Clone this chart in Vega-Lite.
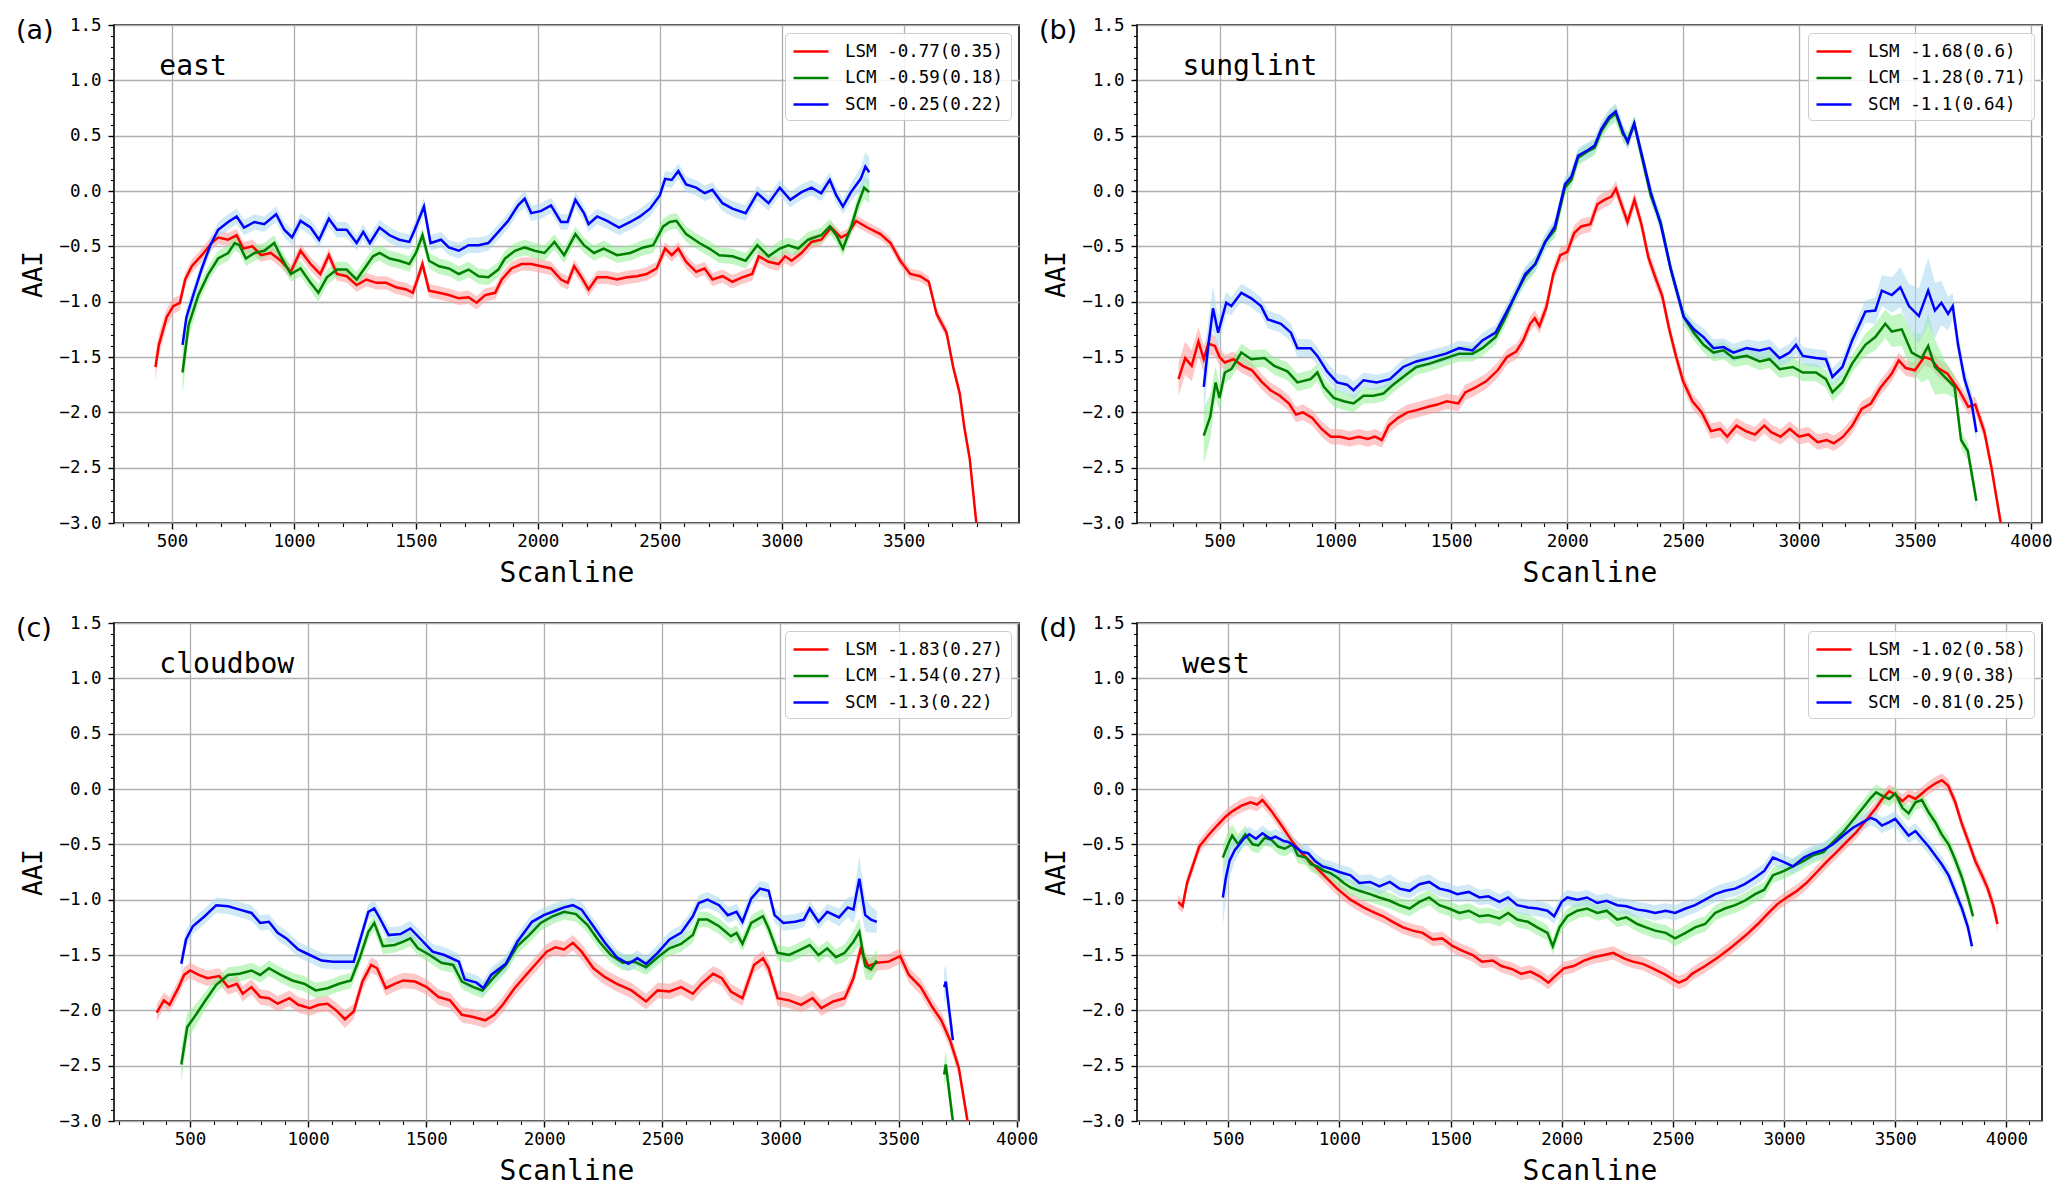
{
"$schema": "https://vega.github.io/schema/vega-lite/v6.json",
"padding": {"left": 15, "top": 15, "right": 10, "bottom": 6},
"columns": 2,
"spacing": {"row": 100, "column": 118},
"bounds": "flush",
"resolve": {"scale": {"color": "independent", "x": "independent", "y": "independent"}, "legend": {"color": "independent"}, "axis": {"x": "independent", "y": "independent"}},
"config": {
 "view": {"stroke": "black", "strokeWidth": 1.6},
 "font": "DejaVu Sans Mono",
 "axis": {"labelFont": "DejaVu Sans Mono", "labelFontSize": 17.5, "labelColor": "black", "titleFont": "DejaVu Sans Mono", "titleFontWeight": "normal", "titleColor": "black", "tickColor": "black", "tickWidth": 1.4, "domain": false, "gridColor": "#b0b0b0", "gridWidth": 1.3, "labelFlush": false, "labelOverlap": false},
 "legend": {"title": null, "orient": "top-right", "offset": 8, "padding": 7, "fillColor": "rgba(255,255,255,0.85)", "strokeColor": "#cccccc", "cornerRadius": 4, "symbolType": "M-1,0H2.5", "symbolSize": 400, "symbolStrokeWidth": 2.6, "labelFont": "DejaVu Sans Mono", "labelFontSize": 17.5, "labelColor": "black", "labelOffset": 30, "rowPadding": 6.5, "labelLimit": 400}
},
"concat": [
{
 "width": 905, "height": 498,
 "data": {"values": [
{"s":"LSM","x":432,"y":-1.59,"e":0.12},{"s":"LSM","x":446,"y":-1.39,"e":0.1},{"s":"LSM","x":478,"y":-1.14,"e":0.08},{"s":"LSM","x":505,"y":-1.04,"e":0.07},{"s":"LSM","x":532,"y":-1.01,"e":0.07},{"s":"LSM","x":554,"y":-0.8,"e":0.06},{"s":"LSM","x":581,"y":-0.68,"e":0.06},{"s":"LSM","x":622,"y":-0.58,"e":0.06},{"s":"LSM","x":662,"y":-0.47,"e":0.06},{"s":"LSM","x":689,"y":-0.42,"e":0.06},{"s":"LSM","x":730,"y":-0.44,"e":0.06},{"s":"LSM","x":765,"y":-0.4,"e":0.06},{"s":"LSM","x":792,"y":-0.52,"e":0.06},{"s":"LSM","x":830,"y":-0.5,"e":0.06},{"s":"LSM","x":865,"y":-0.58,"e":0.06},{"s":"LSM","x":905,"y":-0.56,"e":0.06},{"s":"LSM","x":946,"y":-0.63,"e":0.06},{"s":"LSM","x":987,"y":-0.73,"e":0.06},{"s":"LSM","x":1027,"y":-0.54,"e":0.06},{"s":"LSM","x":1068,"y":-0.66,"e":0.06},{"s":"LSM","x":1108,"y":-0.75,"e":0.06},{"s":"LSM","x":1143,"y":-0.58,"e":0.06},{"s":"LSM","x":1176,"y":-0.75,"e":0.06},{"s":"LSM","x":1216,"y":-0.77,"e":0.06},{"s":"LSM","x":1257,"y":-0.85,"e":0.06},{"s":"LSM","x":1297,"y":-0.8,"e":0.06},{"s":"LSM","x":1338,"y":-0.83,"e":0.06},{"s":"LSM","x":1378,"y":-0.83,"e":0.06},{"s":"LSM","x":1419,"y":-0.87,"e":0.06},{"s":"LSM","x":1460,"y":-0.89,"e":0.06},{"s":"LSM","x":1487,"y":-0.92,"e":0.06},{"s":"LSM","x":1506,"y":-0.8,"e":0.06},{"s":"LSM","x":1527,"y":-0.66,"e":0.06},{"s":"LSM","x":1554,"y":-0.9,"e":0.06},{"s":"LSM","x":1595,"y":-0.92,"e":0.06},{"s":"LSM","x":1635,"y":-0.94,"e":0.06},{"s":"LSM","x":1676,"y":-0.97,"e":0.06},{"s":"LSM","x":1716,"y":-0.96,"e":0.06},{"s":"LSM","x":1749,"y":-1.01,"e":0.06},{"s":"LSM","x":1784,"y":-0.94,"e":0.06},{"s":"LSM","x":1825,"y":-0.92,"e":0.06},{"s":"LSM","x":1852,"y":-0.8,"e":0.06},{"s":"LSM","x":1892,"y":-0.7,"e":0.06},{"s":"LSM","x":1933,"y":-0.66,"e":0.06},{"s":"LSM","x":1973,"y":-0.66,"e":0.06},{"s":"LSM","x":2014,"y":-0.68,"e":0.06},{"s":"LSM","x":2054,"y":-0.7,"e":0.06},{"s":"LSM","x":2095,"y":-0.8,"e":0.06},{"s":"LSM","x":2122,"y":-0.83,"e":0.06},{"s":"LSM","x":2149,"y":-0.68,"e":0.06},{"s":"LSM","x":2176,"y":-0.77,"e":0.06},{"s":"LSM","x":2208,"y":-0.89,"e":0.06},{"s":"LSM","x":2243,"y":-0.78,"e":0.06},{"s":"LSM","x":2284,"y":-0.78,"e":0.06},{"s":"LSM","x":2325,"y":-0.8,"e":0.06},{"s":"LSM","x":2365,"y":-0.78,"e":0.06},{"s":"LSM","x":2406,"y":-0.77,"e":0.06},{"s":"LSM","x":2446,"y":-0.75,"e":0.06},{"s":"LSM","x":2487,"y":-0.7,"e":0.06},{"s":"LSM","x":2522,"y":-0.52,"e":0.06},{"s":"LSM","x":2549,"y":-0.58,"e":0.06},{"s":"LSM","x":2576,"y":-0.52,"e":0.06},{"s":"LSM","x":2608,"y":-0.64,"e":0.06},{"s":"LSM","x":2649,"y":-0.73,"e":0.06},{"s":"LSM","x":2684,"y":-0.7,"e":0.06},{"s":"LSM","x":2716,"y":-0.8,"e":0.06},{"s":"LSM","x":2757,"y":-0.77,"e":0.06},{"s":"LSM","x":2798,"y":-0.82,"e":0.06},{"s":"LSM","x":2838,"y":-0.78,"e":0.06},{"s":"LSM","x":2879,"y":-0.75,"e":0.06},{"s":"LSM","x":2906,"y":-0.59,"e":0.06},{"s":"LSM","x":2946,"y":-0.64,"e":0.06},{"s":"LSM","x":2987,"y":-0.66,"e":0.06},{"s":"LSM","x":3014,"y":-0.59,"e":0.06},{"s":"LSM","x":3041,"y":-0.63,"e":0.06},{"s":"LSM","x":3081,"y":-0.56,"e":0.06},{"s":"LSM","x":3122,"y":-0.46,"e":0.06},{"s":"LSM","x":3162,"y":-0.44,"e":0.05},{"s":"LSM","x":3203,"y":-0.33,"e":0.05},{"s":"LSM","x":3243,"y":-0.42,"e":0.05},{"s":"LSM","x":3270,"y":-0.39,"e":0.05},{"s":"LSM","x":3305,"y":-0.27,"e":0.05},{"s":"LSM","x":3351,"y":-0.33,"e":0.05},{"s":"LSM","x":3405,"y":-0.39,"e":0.05},{"s":"LSM","x":3446,"y":-0.47,"e":0.05},{"s":"LSM","x":3486,"y":-0.63,"e":0.05},{"s":"LSM","x":3527,"y":-0.75,"e":0.05},{"s":"LSM","x":3568,"y":-0.77,"e":0.05},{"s":"LSM","x":3603,"y":-0.82,"e":0.05},{"s":"LSM","x":3635,"y":-1.11,"e":0.05},{"s":"LSM","x":3676,"y":-1.28,"e":0.05},{"s":"LSM","x":3703,"y":-1.59,"e":0.05},{"s":"LSM","x":3730,"y":-1.83,"e":0.05},{"s":"LSM","x":3749,"y":-2.14,"e":0.05},{"s":"LSM","x":3771,"y":-2.42,"e":0.05},{"s":"LSM","x":3798,"y":-3.0,"e":0.05},
{"s":"LCM","x":543,"y":-1.64,"e":0.2},{"s":"LCM","x":568,"y":-1.21,"e":0.12},{"s":"LCM","x":608,"y":-0.94,"e":0.08},{"s":"LCM","x":649,"y":-0.75,"e":0.07},{"s":"LCM","x":689,"y":-0.61,"e":0.07},{"s":"LCM","x":730,"y":-0.56,"e":0.07},{"s":"LCM","x":757,"y":-0.47,"e":0.07},{"s":"LCM","x":776,"y":-0.49,"e":0.07},{"s":"LCM","x":803,"y":-0.61,"e":0.07},{"s":"LCM","x":838,"y":-0.56,"e":0.07},{"s":"LCM","x":878,"y":-0.54,"e":0.07},{"s":"LCM","x":919,"y":-0.47,"e":0.07},{"s":"LCM","x":946,"y":-0.59,"e":0.07},{"s":"LCM","x":987,"y":-0.75,"e":0.07},{"s":"LCM","x":1027,"y":-0.7,"e":0.07},{"s":"LCM","x":1068,"y":-0.83,"e":0.07},{"s":"LCM","x":1100,"y":-0.92,"e":0.08},{"s":"LCM","x":1135,"y":-0.78,"e":0.07},{"s":"LCM","x":1176,"y":-0.71,"e":0.07},{"s":"LCM","x":1216,"y":-0.71,"e":0.07},{"s":"LCM","x":1257,"y":-0.8,"e":0.07},{"s":"LCM","x":1289,"y":-0.7,"e":0.07},{"s":"LCM","x":1324,"y":-0.59,"e":0.07},{"s":"LCM","x":1351,"y":-0.56,"e":0.07},{"s":"LCM","x":1392,"y":-0.61,"e":0.07},{"s":"LCM","x":1432,"y":-0.63,"e":0.07},{"s":"LCM","x":1473,"y":-0.66,"e":0.07},{"s":"LCM","x":1500,"y":-0.56,"e":0.07},{"s":"LCM","x":1527,"y":-0.4,"e":0.07},{"s":"LCM","x":1554,"y":-0.63,"e":0.07},{"s":"LCM","x":1595,"y":-0.68,"e":0.07},{"s":"LCM","x":1635,"y":-0.7,"e":0.07},{"s":"LCM","x":1676,"y":-0.75,"e":0.07},{"s":"LCM","x":1716,"y":-0.71,"e":0.07},{"s":"LCM","x":1757,"y":-0.77,"e":0.07},{"s":"LCM","x":1797,"y":-0.78,"e":0.07},{"s":"LCM","x":1838,"y":-0.71,"e":0.07},{"s":"LCM","x":1865,"y":-0.61,"e":0.07},{"s":"LCM","x":1906,"y":-0.54,"e":0.07},{"s":"LCM","x":1946,"y":-0.51,"e":0.07},{"s":"LCM","x":1987,"y":-0.54,"e":0.07},{"s":"LCM","x":2027,"y":-0.56,"e":0.07},{"s":"LCM","x":2068,"y":-0.46,"e":0.07},{"s":"LCM","x":2108,"y":-0.58,"e":0.07},{"s":"LCM","x":2154,"y":-0.39,"e":0.07},{"s":"LCM","x":2189,"y":-0.49,"e":0.07},{"s":"LCM","x":2230,"y":-0.56,"e":0.07},{"s":"LCM","x":2270,"y":-0.52,"e":0.07},{"s":"LCM","x":2325,"y":-0.58,"e":0.07},{"s":"LCM","x":2379,"y":-0.56,"e":0.07},{"s":"LCM","x":2433,"y":-0.51,"e":0.07},{"s":"LCM","x":2473,"y":-0.49,"e":0.07},{"s":"LCM","x":2514,"y":-0.32,"e":0.07},{"s":"LCM","x":2541,"y":-0.28,"e":0.07},{"s":"LCM","x":2568,"y":-0.27,"e":0.07},{"s":"LCM","x":2608,"y":-0.39,"e":0.07},{"s":"LCM","x":2662,"y":-0.47,"e":0.07},{"s":"LCM","x":2703,"y":-0.52,"e":0.07},{"s":"LCM","x":2744,"y":-0.58,"e":0.07},{"s":"LCM","x":2798,"y":-0.59,"e":0.07},{"s":"LCM","x":2852,"y":-0.63,"e":0.07},{"s":"LCM","x":2900,"y":-0.49,"e":0.07},{"s":"LCM","x":2946,"y":-0.59,"e":0.07},{"s":"LCM","x":2992,"y":-0.52,"e":0.07},{"s":"LCM","x":3027,"y":-0.49,"e":0.07},{"s":"LCM","x":3068,"y":-0.52,"e":0.07},{"s":"LCM","x":3108,"y":-0.44,"e":0.07},{"s":"LCM","x":3162,"y":-0.4,"e":0.07},{"s":"LCM","x":3197,"y":-0.32,"e":0.07},{"s":"LCM","x":3224,"y":-0.4,"e":0.07},{"s":"LCM","x":3251,"y":-0.52,"e":0.07},{"s":"LCM","x":3284,"y":-0.33,"e":0.07},{"s":"LCM","x":3311,"y":-0.13,"e":0.08},{"s":"LCM","x":3338,"y":0.03,"e":0.1},{"s":"LCM","x":3359,"y":-0.01,"e":0.1},
{"s":"SCM","x":543,"y":-1.39,"e":0.1},{"s":"SCM","x":559,"y":-1.14,"e":0.08},{"s":"SCM","x":587,"y":-0.94,"e":0.07},{"s":"SCM","x":622,"y":-0.7,"e":0.07},{"s":"SCM","x":657,"y":-0.49,"e":0.07},{"s":"SCM","x":689,"y":-0.35,"e":0.07},{"s":"SCM","x":730,"y":-0.28,"e":0.07},{"s":"SCM","x":765,"y":-0.23,"e":0.07},{"s":"SCM","x":795,"y":-0.33,"e":0.07},{"s":"SCM","x":838,"y":-0.28,"e":0.07},{"s":"SCM","x":878,"y":-0.3,"e":0.07},{"s":"SCM","x":927,"y":-0.21,"e":0.07},{"s":"SCM","x":960,"y":-0.35,"e":0.07},{"s":"SCM","x":992,"y":-0.42,"e":0.07},{"s":"SCM","x":1027,"y":-0.27,"e":0.07},{"s":"SCM","x":1068,"y":-0.33,"e":0.07},{"s":"SCM","x":1103,"y":-0.44,"e":0.07},{"s":"SCM","x":1143,"y":-0.25,"e":0.07},{"s":"SCM","x":1176,"y":-0.35,"e":0.07},{"s":"SCM","x":1216,"y":-0.35,"e":0.07},{"s":"SCM","x":1257,"y":-0.47,"e":0.07},{"s":"SCM","x":1284,"y":-0.37,"e":0.07},{"s":"SCM","x":1311,"y":-0.47,"e":0.07},{"s":"SCM","x":1351,"y":-0.33,"e":0.07},{"s":"SCM","x":1392,"y":-0.4,"e":0.07},{"s":"SCM","x":1432,"y":-0.44,"e":0.07},{"s":"SCM","x":1473,"y":-0.46,"e":0.07},{"s":"SCM","x":1495,"y":-0.35,"e":0.07},{"s":"SCM","x":1533,"y":-0.14,"e":0.08},{"s":"SCM","x":1560,"y":-0.47,"e":0.07},{"s":"SCM","x":1603,"y":-0.44,"e":0.07},{"s":"SCM","x":1635,"y":-0.51,"e":0.07},{"s":"SCM","x":1676,"y":-0.54,"e":0.07},{"s":"SCM","x":1716,"y":-0.49,"e":0.07},{"s":"SCM","x":1757,"y":-0.49,"e":0.07},{"s":"SCM","x":1797,"y":-0.47,"e":0.07},{"s":"SCM","x":1838,"y":-0.37,"e":0.07},{"s":"SCM","x":1878,"y":-0.27,"e":0.07},{"s":"SCM","x":1919,"y":-0.13,"e":0.07},{"s":"SCM","x":1946,"y":-0.07,"e":0.08},{"s":"SCM","x":1973,"y":-0.2,"e":0.07},{"s":"SCM","x":2014,"y":-0.18,"e":0.07},{"s":"SCM","x":2054,"y":-0.13,"e":0.07},{"s":"SCM","x":2095,"y":-0.28,"e":0.07},{"s":"SCM","x":2122,"y":-0.28,"e":0.07},{"s":"SCM","x":2154,"y":-0.08,"e":0.07},{"s":"SCM","x":2189,"y":-0.2,"e":0.07},{"s":"SCM","x":2208,"y":-0.3,"e":0.07},{"s":"SCM","x":2243,"y":-0.23,"e":0.07},{"s":"SCM","x":2284,"y":-0.27,"e":0.07},{"s":"SCM","x":2333,"y":-0.33,"e":0.07},{"s":"SCM","x":2379,"y":-0.28,"e":0.07},{"s":"SCM","x":2419,"y":-0.23,"e":0.07},{"s":"SCM","x":2460,"y":-0.16,"e":0.07},{"s":"SCM","x":2500,"y":-0.04,"e":0.07},{"s":"SCM","x":2522,"y":0.11,"e":0.07},{"s":"SCM","x":2549,"y":0.1,"e":0.07},{"s":"SCM","x":2576,"y":0.18,"e":0.07},{"s":"SCM","x":2608,"y":0.06,"e":0.07},{"s":"SCM","x":2649,"y":0.03,"e":0.07},{"s":"SCM","x":2684,"y":-0.02,"e":0.07},{"s":"SCM","x":2716,"y":0.01,"e":0.07},{"s":"SCM","x":2757,"y":-0.11,"e":0.07},{"s":"SCM","x":2798,"y":-0.16,"e":0.07},{"s":"SCM","x":2852,"y":-0.2,"e":0.07},{"s":"SCM","x":2900,"y":-0.02,"e":0.07},{"s":"SCM","x":2946,"y":-0.11,"e":0.07},{"s":"SCM","x":2992,"y":0.03,"e":0.07},{"s":"SCM","x":3035,"y":-0.08,"e":0.07},{"s":"SCM","x":3081,"y":-0.01,"e":0.07},{"s":"SCM","x":3122,"y":0.03,"e":0.07},{"s":"SCM","x":3162,"y":-0.02,"e":0.07},{"s":"SCM","x":3197,"y":0.1,"e":0.07},{"s":"SCM","x":3224,"y":-0.04,"e":0.07},{"s":"SCM","x":3251,"y":-0.14,"e":0.07},{"s":"SCM","x":3284,"y":-0.01,"e":0.08},{"s":"SCM","x":3324,"y":0.11,"e":0.1},{"s":"SCM","x":3343,"y":0.22,"e":0.13},{"s":"SCM","x":3359,"y":0.17,"e":0.14}
 ]},
 "layer": [
  {"mark": {"type": "errorband", "clip": true, "opacity": 0.55},
   "encoding": {
    "x": {"field": "x", "type": "quantitative", "scale": {"domain": [262, 3973], "nice": false, "zero": false}, "axis": {"orient": "bottom", "values": [300,400,600,700,800,900,1100,1200,1300,1400,1600,1700,1800,1900,2100,2200,2300,2400,2600,2700,2800,2900,3100,3200,3300,3400,3600,3700,3800,3900], "labels": false, "grid": false, "tickSize": 3.5, "tickWidth": 1.1, "title": null}},
    "y": {"field": "y", "type": "quantitative", "scale": {"domain": [-3, 1.5], "nice": false, "zero": false}, "axis": {"orient": "left", "values": [-2.9,-2.8,-2.7,-2.6,-2.4,-2.3,-2.2,-2.1,-1.9,-1.8,-1.7,-1.6,-1.4,-1.3,-1.2,-1.1,-0.9,-0.8,-0.7,-0.6,-0.4,-0.3,-0.2,-0.1,0.1,0.2,0.3,0.4,0.6,0.7,0.8,0.9,1.1,1.2,1.3,1.4], "labels": false, "grid": false, "tickSize": 3.5, "tickWidth": 1.1, "title": null}},
    "yError": {"field": "e"},
    "color": {"field": "s", "type": "nominal", "scale": {"domain": ["LSM", "LCM", "SCM"], "range": ["#ff9a9a", "#90ee90", "#a8d8ee"]}, "legend": null}
   }},
  {"mark": {"type": "line", "clip": true, "strokeWidth": 2.5},
   "encoding": {
    "x": {"field": "x", "type": "quantitative", "scale": {"domain": [262, 3973], "nice": false, "zero": false}, "axis": {"orient": "bottom", "values": [500,1000,1500,2000,2500,3000,3500], "format": "d", "grid": true, "tickSize": 6, "labelPadding": 3, "title": "Scanline", "titleFontSize": 28, "titlePadding": 10}},
    "y": {"field": "y", "type": "quantitative", "scale": {"domain": [-3, 1.5], "nice": false, "zero": false}, "axis": {"orient": "left", "values": [-3,-2.5,-2,-1.5,-1,-0.5,0,0.5,1,1.5], "format": ".1f", "grid": true, "tickSize": 6, "labelPadding": 7, "title": "AAI", "titleFontSize": 26, "titlePadding": 12}},
    "color": {"field": "s", "type": "nominal", "scale": {"domain": ["LSM", "LCM", "SCM"], "range": ["#ff0000", "#008000", "#0000ff"]}, "legend": {"labelExpr": "datum.label == 'LSM' ? 'LSM -0.77(0.35)' : datum.label == 'LCM' ? 'LCM -0.59(0.18)' : 'SCM -0.25(0.22)'"}}
   }},
  {"data": {"values": [{"x": 448, "y": 1.05, "t": "east"}]},
   "mark": {"type": "text", "align": "left", "baseline": "alphabetic", "font": "DejaVu Sans Mono", "fontSize": 28, "color": "black"},
   "encoding": {"x": {"field": "x", "type": "quantitative", "axis": null}, "y": {"field": "y", "type": "quantitative", "axis": null}, "text": {"field": "t"}}},
  {"data": {"values": [{"x": -140, "y": 1.373, "t": "(a)"}]},
   "mark": {"type": "text", "align": "left", "baseline": "alphabetic", "font": "DejaVu Sans", "fontSize": 27, "color": "black", "clip": false},
   "encoding": {"x": {"field": "x", "type": "quantitative", "axis": null}, "y": {"field": "y", "type": "quantitative", "axis": null}, "text": {"field": "t"}}}
 ],
 "resolve": {"scale": {"color": "independent"}, "axis": {"x": "independent", "y": "independent"}}
},
{
 "width": 905, "height": 498,
 "data": {"values": [
{"s":"LSM","x":323,"y":-1.7,"e":0.15},{"s":"LSM","x":352,"y":-1.51,"e":0.15},{"s":"LSM","x":380,"y":-1.58,"e":0.14},{"s":"LSM","x":409,"y":-1.36,"e":0.13},{"s":"LSM","x":432,"y":-1.52,"e":0.12},{"s":"LSM","x":452,"y":-1.38,"e":0.1},{"s":"LSM","x":480,"y":-1.4,"e":0.09},{"s":"LSM","x":500,"y":-1.5,"e":0.08},{"s":"LSM","x":523,"y":-1.55,"e":0.07},{"s":"LSM","x":560,"y":-1.52,"e":0.07},{"s":"LSM","x":600,"y":-1.58,"e":0.07},{"s":"LSM","x":640,"y":-1.62,"e":0.07},{"s":"LSM","x":680,"y":-1.72,"e":0.07},{"s":"LSM","x":720,"y":-1.8,"e":0.07},{"s":"LSM","x":760,"y":-1.85,"e":0.07},{"s":"LSM","x":800,"y":-1.92,"e":0.07},{"s":"LSM","x":830,"y":-2.02,"e":0.07},{"s":"LSM","x":860,"y":-2.0,"e":0.07},{"s":"LSM","x":900,"y":-2.05,"e":0.07},{"s":"LSM","x":940,"y":-2.15,"e":0.07},{"s":"LSM","x":980,"y":-2.22,"e":0.07},{"s":"LSM","x":1020,"y":-2.22,"e":0.07},{"s":"LSM","x":1060,"y":-2.24,"e":0.07},{"s":"LSM","x":1100,"y":-2.22,"e":0.07},{"s":"LSM","x":1140,"y":-2.24,"e":0.07},{"s":"LSM","x":1170,"y":-2.22,"e":0.07},{"s":"LSM","x":1200,"y":-2.25,"e":0.07},{"s":"LSM","x":1230,"y":-2.12,"e":0.07},{"s":"LSM","x":1270,"y":-2.05,"e":0.07},{"s":"LSM","x":1310,"y":-2.0,"e":0.07},{"s":"LSM","x":1350,"y":-1.98,"e":0.07},{"s":"LSM","x":1400,"y":-1.95,"e":0.07},{"s":"LSM","x":1440,"y":-1.93,"e":0.07},{"s":"LSM","x":1480,"y":-1.9,"e":0.07},{"s":"LSM","x":1530,"y":-1.92,"e":0.07},{"s":"LSM","x":1560,"y":-1.82,"e":0.07},{"s":"LSM","x":1600,"y":-1.78,"e":0.07},{"s":"LSM","x":1650,"y":-1.72,"e":0.07},{"s":"LSM","x":1700,"y":-1.62,"e":0.07},{"s":"LSM","x":1740,"y":-1.5,"e":0.07},{"s":"LSM","x":1780,"y":-1.45,"e":0.07},{"s":"LSM","x":1810,"y":-1.35,"e":0.07},{"s":"LSM","x":1840,"y":-1.2,"e":0.07},{"s":"LSM","x":1860,"y":-1.15,"e":0.07},{"s":"LSM","x":1880,"y":-1.22,"e":0.07},{"s":"LSM","x":1910,"y":-1.05,"e":0.07},{"s":"LSM","x":1940,"y":-0.75,"e":0.07},{"s":"LSM","x":1970,"y":-0.58,"e":0.07},{"s":"LSM","x":2000,"y":-0.55,"e":0.07},{"s":"LSM","x":2030,"y":-0.38,"e":0.07},{"s":"LSM","x":2060,"y":-0.32,"e":0.07},{"s":"LSM","x":2100,"y":-0.3,"e":0.07},{"s":"LSM","x":2130,"y":-0.12,"e":0.07},{"s":"LSM","x":2160,"y":-0.08,"e":0.07},{"s":"LSM","x":2190,"y":-0.05,"e":0.07},{"s":"LSM","x":2210,"y":0.02,"e":0.07},{"s":"LSM","x":2230,"y":-0.1,"e":0.07},{"s":"LSM","x":2260,"y":-0.28,"e":0.07},{"s":"LSM","x":2290,"y":-0.08,"e":0.07},{"s":"LSM","x":2320,"y":-0.3,"e":0.07},{"s":"LSM","x":2350,"y":-0.6,"e":0.07},{"s":"LSM","x":2380,"y":-0.78,"e":0.07},{"s":"LSM","x":2410,"y":-0.95,"e":0.07},{"s":"LSM","x":2440,"y":-1.25,"e":0.07},{"s":"LSM","x":2470,"y":-1.5,"e":0.07},{"s":"LSM","x":2500,"y":-1.72,"e":0.07},{"s":"LSM","x":2540,"y":-1.9,"e":0.07},{"s":"LSM","x":2580,"y":-2.0,"e":0.07},{"s":"LSM","x":2620,"y":-2.17,"e":0.07},{"s":"LSM","x":2660,"y":-2.15,"e":0.07},{"s":"LSM","x":2690,"y":-2.22,"e":0.07},{"s":"LSM","x":2730,"y":-2.12,"e":0.07},{"s":"LSM","x":2770,"y":-2.17,"e":0.07},{"s":"LSM","x":2810,"y":-2.2,"e":0.07},{"s":"LSM","x":2850,"y":-2.12,"e":0.07},{"s":"LSM","x":2880,"y":-2.18,"e":0.07},{"s":"LSM","x":2920,"y":-2.22,"e":0.07},{"s":"LSM","x":2960,"y":-2.15,"e":0.07},{"s":"LSM","x":3000,"y":-2.22,"e":0.07},{"s":"LSM","x":3040,"y":-2.2,"e":0.07},{"s":"LSM","x":3080,"y":-2.27,"e":0.07},{"s":"LSM","x":3120,"y":-2.25,"e":0.07},{"s":"LSM","x":3150,"y":-2.28,"e":0.07},{"s":"LSM","x":3190,"y":-2.22,"e":0.07},{"s":"LSM","x":3230,"y":-2.12,"e":0.07},{"s":"LSM","x":3270,"y":-1.97,"e":0.07},{"s":"LSM","x":3310,"y":-1.92,"e":0.07},{"s":"LSM","x":3350,"y":-1.78,"e":0.07},{"s":"LSM","x":3400,"y":-1.65,"e":0.07},{"s":"LSM","x":3430,"y":-1.53,"e":0.07},{"s":"LSM","x":3460,"y":-1.6,"e":0.07},{"s":"LSM","x":3500,"y":-1.62,"e":0.07},{"s":"LSM","x":3540,"y":-1.5,"e":0.08},{"s":"LSM","x":3570,"y":-1.52,"e":0.08},{"s":"LSM","x":3600,"y":-1.6,"e":0.08},{"s":"LSM","x":3640,"y":-1.65,"e":0.08},{"s":"LSM","x":3690,"y":-1.8,"e":0.07},{"s":"LSM","x":3730,"y":-1.95,"e":0.07},{"s":"LSM","x":3760,"y":-1.93,"e":0.07},{"s":"LSM","x":3800,"y":-2.18,"e":0.07},{"s":"LSM","x":3830,"y":-2.5,"e":0.07},{"s":"LSM","x":3870,"y":-3.0,"e":0.07},
{"s":"LCM","x":432,"y":-2.21,"e":0.25},{"s":"LCM","x":460,"y":-2.04,"e":0.2},{"s":"LCM","x":483,"y":-1.73,"e":0.15},{"s":"LCM","x":500,"y":-1.87,"e":0.12},{"s":"LCM","x":523,"y":-1.64,"e":0.1},{"s":"LCM","x":551,"y":-1.61,"e":0.08},{"s":"LCM","x":594,"y":-1.46,"e":0.08},{"s":"LCM","x":637,"y":-1.52,"e":0.08},{"s":"LCM","x":694,"y":-1.51,"e":0.08},{"s":"LCM","x":736,"y":-1.58,"e":0.08},{"s":"LCM","x":793,"y":-1.63,"e":0.08},{"s":"LCM","x":836,"y":-1.73,"e":0.08},{"s":"LCM","x":893,"y":-1.7,"e":0.08},{"s":"LCM","x":922,"y":-1.64,"e":0.08},{"s":"LCM","x":950,"y":-1.77,"e":0.08},{"s":"LCM","x":993,"y":-1.87,"e":0.08},{"s":"LCM","x":1036,"y":-1.9,"e":0.08},{"s":"LCM","x":1078,"y":-1.92,"e":0.08},{"s":"LCM","x":1121,"y":-1.85,"e":0.07},{"s":"LCM","x":1164,"y":-1.85,"e":0.07},{"s":"LCM","x":1207,"y":-1.83,"e":0.07},{"s":"LCM","x":1249,"y":-1.75,"e":0.07},{"s":"LCM","x":1292,"y":-1.68,"e":0.07},{"s":"LCM","x":1349,"y":-1.59,"e":0.07},{"s":"LCM","x":1406,"y":-1.56,"e":0.07},{"s":"LCM","x":1463,"y":-1.52,"e":0.07},{"s":"LCM","x":1534,"y":-1.47,"e":0.07},{"s":"LCM","x":1591,"y":-1.47,"e":0.07},{"s":"LCM","x":1634,"y":-1.42,"e":0.07},{"s":"LCM","x":1691,"y":-1.32,"e":0.07},{"s":"LCM","x":1734,"y":-1.14,"e":0.07},{"s":"LCM","x":1776,"y":-0.94,"e":0.07},{"s":"LCM","x":1819,"y":-0.77,"e":0.07},{"s":"LCM","x":1862,"y":-0.66,"e":0.07},{"s":"LCM","x":1905,"y":-0.46,"e":0.07},{"s":"LCM","x":1947,"y":-0.35,"e":0.07},{"s":"LCM","x":1990,"y":0.03,"e":0.07},{"s":"LCM","x":2018,"y":0.1,"e":0.07},{"s":"LCM","x":2047,"y":0.3,"e":0.07},{"s":"LCM","x":2090,"y":0.36,"e":0.07},{"s":"LCM","x":2118,"y":0.39,"e":0.07},{"s":"LCM","x":2147,"y":0.54,"e":0.07},{"s":"LCM","x":2181,"y":0.65,"e":0.07},{"s":"LCM","x":2209,"y":0.7,"e":0.08},{"s":"LCM","x":2241,"y":0.51,"e":0.07},{"s":"LCM","x":2261,"y":0.46,"e":0.07},{"s":"LCM","x":2289,"y":0.61,"e":0.07},{"s":"LCM","x":2318,"y":0.34,"e":0.07},{"s":"LCM","x":2360,"y":-0.04,"e":0.07},{"s":"LCM","x":2403,"y":-0.28,"e":0.07},{"s":"LCM","x":2446,"y":-0.7,"e":0.07},{"s":"LCM","x":2503,"y":-1.14,"e":0.07},{"s":"LCM","x":2546,"y":-1.28,"e":0.07},{"s":"LCM","x":2588,"y":-1.39,"e":0.07},{"s":"LCM","x":2631,"y":-1.46,"e":0.08},{"s":"LCM","x":2674,"y":-1.44,"e":0.08},{"s":"LCM","x":2717,"y":-1.51,"e":0.08},{"s":"LCM","x":2774,"y":-1.49,"e":0.08},{"s":"LCM","x":2830,"y":-1.54,"e":0.08},{"s":"LCM","x":2873,"y":-1.52,"e":0.08},{"s":"LCM","x":2916,"y":-1.61,"e":0.08},{"s":"LCM","x":2973,"y":-1.59,"e":0.08},{"s":"LCM","x":3016,"y":-1.64,"e":0.08},{"s":"LCM","x":3073,"y":-1.64,"e":0.08},{"s":"LCM","x":3116,"y":-1.7,"e":0.08},{"s":"LCM","x":3144,"y":-1.82,"e":0.08},{"s":"LCM","x":3187,"y":-1.73,"e":0.08},{"s":"LCM","x":3229,"y":-1.56,"e":0.08},{"s":"LCM","x":3286,"y":-1.39,"e":0.1},{"s":"LCM","x":3329,"y":-1.32,"e":0.12},{"s":"LCM","x":3372,"y":-1.2,"e":0.13},{"s":"LCM","x":3400,"y":-1.27,"e":0.14},{"s":"LCM","x":3443,"y":-1.25,"e":0.15},{"s":"LCM","x":3486,"y":-1.46,"e":0.18},{"s":"LCM","x":3529,"y":-1.51,"e":0.22},{"s":"LCM","x":3557,"y":-1.4,"e":0.3},{"s":"LCM","x":3586,"y":-1.59,"e":0.25},{"s":"LCM","x":3628,"y":-1.68,"e":0.15},{"s":"LCM","x":3671,"y":-1.77,"e":0.1},{"s":"LCM","x":3699,"y":-2.25,"e":0.08},{"s":"LCM","x":3728,"y":-2.35,"e":0.08},{"s":"LCM","x":3765,"y":-2.8,"e":0.08},
{"s":"SCM","x":432,"y":-1.77,"e":0.25},{"s":"SCM","x":452,"y":-1.39,"e":0.22},{"s":"SCM","x":472,"y":-1.06,"e":0.2},{"s":"SCM","x":494,"y":-1.28,"e":0.15},{"s":"SCM","x":529,"y":-1.01,"e":0.1},{"s":"SCM","x":551,"y":-1.04,"e":0.08},{"s":"SCM","x":594,"y":-0.92,"e":0.08},{"s":"SCM","x":637,"y":-0.97,"e":0.08},{"s":"SCM","x":679,"y":-1.04,"e":0.08},{"s":"SCM","x":708,"y":-1.16,"e":0.08},{"s":"SCM","x":765,"y":-1.2,"e":0.08},{"s":"SCM","x":808,"y":-1.28,"e":0.08},{"s":"SCM","x":836,"y":-1.42,"e":0.08},{"s":"SCM","x":893,"y":-1.42,"e":0.08},{"s":"SCM","x":922,"y":-1.49,"e":0.08},{"s":"SCM","x":964,"y":-1.63,"e":0.08},{"s":"SCM","x":1007,"y":-1.73,"e":0.08},{"s":"SCM","x":1050,"y":-1.75,"e":0.08},{"s":"SCM","x":1078,"y":-1.8,"e":0.08},{"s":"SCM","x":1121,"y":-1.71,"e":0.07},{"s":"SCM","x":1178,"y":-1.73,"e":0.07},{"s":"SCM","x":1235,"y":-1.7,"e":0.07},{"s":"SCM","x":1292,"y":-1.59,"e":0.07},{"s":"SCM","x":1349,"y":-1.54,"e":0.07},{"s":"SCM","x":1406,"y":-1.51,"e":0.07},{"s":"SCM","x":1477,"y":-1.47,"e":0.07},{"s":"SCM","x":1534,"y":-1.42,"e":0.07},{"s":"SCM","x":1591,"y":-1.44,"e":0.07},{"s":"SCM","x":1634,"y":-1.35,"e":0.07},{"s":"SCM","x":1691,"y":-1.28,"e":0.07},{"s":"SCM","x":1734,"y":-1.11,"e":0.07},{"s":"SCM","x":1776,"y":-0.94,"e":0.07},{"s":"SCM","x":1819,"y":-0.75,"e":0.07},{"s":"SCM","x":1862,"y":-0.66,"e":0.07},{"s":"SCM","x":1905,"y":-0.46,"e":0.07},{"s":"SCM","x":1947,"y":-0.32,"e":0.07},{"s":"SCM","x":1990,"y":0.06,"e":0.07},{"s":"SCM","x":2018,"y":0.13,"e":0.07},{"s":"SCM","x":2047,"y":0.32,"e":0.07},{"s":"SCM","x":2090,"y":0.37,"e":0.07},{"s":"SCM","x":2118,"y":0.41,"e":0.07},{"s":"SCM","x":2147,"y":0.56,"e":0.07},{"s":"SCM","x":2181,"y":0.67,"e":0.07},{"s":"SCM","x":2209,"y":0.72,"e":0.07},{"s":"SCM","x":2241,"y":0.53,"e":0.07},{"s":"SCM","x":2261,"y":0.44,"e":0.07},{"s":"SCM","x":2289,"y":0.61,"e":0.07},{"s":"SCM","x":2318,"y":0.36,"e":0.07},{"s":"SCM","x":2360,"y":-0.01,"e":0.07},{"s":"SCM","x":2403,"y":-0.3,"e":0.07},{"s":"SCM","x":2446,"y":-0.7,"e":0.07},{"s":"SCM","x":2503,"y":-1.14,"e":0.07},{"s":"SCM","x":2546,"y":-1.25,"e":0.07},{"s":"SCM","x":2588,"y":-1.32,"e":0.08},{"s":"SCM","x":2631,"y":-1.42,"e":0.08},{"s":"SCM","x":2674,"y":-1.41,"e":0.08},{"s":"SCM","x":2717,"y":-1.46,"e":0.08},{"s":"SCM","x":2774,"y":-1.42,"e":0.08},{"s":"SCM","x":2830,"y":-1.44,"e":0.08},{"s":"SCM","x":2873,"y":-1.42,"e":0.08},{"s":"SCM","x":2916,"y":-1.51,"e":0.08},{"s":"SCM","x":2959,"y":-1.46,"e":0.08},{"s":"SCM","x":2987,"y":-1.39,"e":0.08},{"s":"SCM","x":3016,"y":-1.49,"e":0.08},{"s":"SCM","x":3073,"y":-1.51,"e":0.08},{"s":"SCM","x":3116,"y":-1.52,"e":0.08},{"s":"SCM","x":3144,"y":-1.68,"e":0.08},{"s":"SCM","x":3187,"y":-1.59,"e":0.08},{"s":"SCM","x":3229,"y":-1.35,"e":0.09},{"s":"SCM","x":3286,"y":-1.09,"e":0.1},{"s":"SCM","x":3329,"y":-1.08,"e":0.12},{"s":"SCM","x":3357,"y":-0.9,"e":0.14},{"s":"SCM","x":3400,"y":-0.94,"e":0.16},{"s":"SCM","x":3437,"y":-0.87,"e":0.18},{"s":"SCM","x":3474,"y":-1.04,"e":0.2},{"s":"SCM","x":3517,"y":-1.13,"e":0.25},{"s":"SCM","x":3557,"y":-0.9,"e":0.3},{"s":"SCM","x":3586,"y":-1.08,"e":0.25},{"s":"SCM","x":3614,"y":-1.01,"e":0.2},{"s":"SCM","x":3643,"y":-1.11,"e":0.15},{"s":"SCM","x":3663,"y":-1.04,"e":0.12},{"s":"SCM","x":3686,"y":-1.39,"e":0.1},{"s":"SCM","x":3714,"y":-1.7,"e":0.1},{"s":"SCM","x":3743,"y":-1.9,"e":0.1},{"s":"SCM","x":3765,"y":-2.18,"e":0.1}
 ]},
 "layer": [
  {"mark": {"type": "errorband", "clip": true, "opacity": 0.55},
   "encoding": {
    "x": {"field": "x", "type": "quantitative", "scale": {"domain": [144, 4048], "nice": false, "zero": false}, "axis": {"orient": "bottom", "values": [200,300,400,600,700,800,900,1100,1200,1300,1400,1600,1700,1800,1900,2100,2200,2300,2400,2600,2700,2800,2900,3100,3200,3300,3400,3600,3700,3800,3900], "labels": false, "grid": false, "tickSize": 3.5, "tickWidth": 1.1, "title": null}},
    "y": {"field": "y", "type": "quantitative", "scale": {"domain": [-3, 1.5], "nice": false, "zero": false}, "axis": {"orient": "left", "values": [-2.9,-2.8,-2.7,-2.6,-2.4,-2.3,-2.2,-2.1,-1.9,-1.8,-1.7,-1.6,-1.4,-1.3,-1.2,-1.1,-0.9,-0.8,-0.7,-0.6,-0.4,-0.3,-0.2,-0.1,0.1,0.2,0.3,0.4,0.6,0.7,0.8,0.9,1.1,1.2,1.3,1.4], "labels": false, "grid": false, "tickSize": 3.5, "tickWidth": 1.1, "title": null}},
    "yError": {"field": "e"},
    "color": {"field": "s", "type": "nominal", "scale": {"domain": ["LSM", "LCM", "SCM"], "range": ["#ff9a9a", "#90ee90", "#a8d8ee"]}, "legend": null}
   }},
  {"mark": {"type": "line", "clip": true, "strokeWidth": 2.5},
   "encoding": {
    "x": {"field": "x", "type": "quantitative", "scale": {"domain": [144, 4048], "nice": false, "zero": false}, "axis": {"orient": "bottom", "values": [500,1000,1500,2000,2500,3000,3500,4000], "format": "d", "grid": true, "tickSize": 6, "labelPadding": 3, "title": "Scanline", "titleFontSize": 28, "titlePadding": 10}},
    "y": {"field": "y", "type": "quantitative", "scale": {"domain": [-3, 1.5], "nice": false, "zero": false}, "axis": {"orient": "left", "values": [-3,-2.5,-2,-1.5,-1,-0.5,0,0.5,1,1.5], "format": ".1f", "grid": true, "tickSize": 6, "labelPadding": 7, "title": "AAI", "titleFontSize": 26, "titlePadding": 12}},
    "color": {"field": "s", "type": "nominal", "scale": {"domain": ["LSM", "LCM", "SCM"], "range": ["#ff0000", "#008000", "#0000ff"]}, "legend": {"labelExpr": "datum.label == 'LSM' ? 'LSM -1.68(0.6)' : datum.label == 'LCM' ? 'LCM -1.28(0.71)' : 'SCM -1.1(0.64)'"}}
   }},
  {"data": {"values": [{"x": 340, "y": 1.05, "t": "sunglint"}]},
   "mark": {"type": "text", "align": "left", "baseline": "alphabetic", "font": "DejaVu Sans Mono", "fontSize": 28, "color": "black"},
   "encoding": {"x": {"field": "x", "type": "quantitative", "axis": null}, "y": {"field": "y", "type": "quantitative", "axis": null}, "text": {"field": "t"}}},
  {"data": {"values": [{"x": -279, "y": 1.373, "t": "(b)"}]},
   "mark": {"type": "text", "align": "left", "baseline": "alphabetic", "font": "DejaVu Sans", "fontSize": 27, "color": "black", "clip": false},
   "encoding": {"x": {"field": "x", "type": "quantitative", "axis": null}, "y": {"field": "y", "type": "quantitative", "axis": null}, "text": {"field": "t"}}}
 ],
 "resolve": {"scale": {"color": "independent"}, "axis": {"x": "independent", "y": "independent"}}
},
{
 "width": 905, "height": 498,
 "data": {"values": [
{"s":"LSM","x":359,"y":-2.02,"e":0.08},{"s":"LSM","x":389,"y":-1.91,"e":0.07},{"s":"LSM","x":413,"y":-1.95,"e":0.07},{"s":"LSM","x":450,"y":-1.8,"e":0.07},{"s":"LSM","x":475,"y":-1.68,"e":0.07},{"s":"LSM","x":500,"y":-1.64,"e":0.07},{"s":"LSM","x":537,"y":-1.68,"e":0.07},{"s":"LSM","x":574,"y":-1.71,"e":0.07},{"s":"LSM","x":624,"y":-1.69,"e":0.07},{"s":"LSM","x":661,"y":-1.79,"e":0.07},{"s":"LSM","x":698,"y":-1.76,"e":0.07},{"s":"LSM","x":723,"y":-1.85,"e":0.07},{"s":"LSM","x":760,"y":-1.79,"e":0.07},{"s":"LSM","x":797,"y":-1.88,"e":0.07},{"s":"LSM","x":834,"y":-1.89,"e":0.07},{"s":"LSM","x":871,"y":-1.94,"e":0.07},{"s":"LSM","x":921,"y":-1.89,"e":0.07},{"s":"LSM","x":958,"y":-1.95,"e":0.07},{"s":"LSM","x":1007,"y":-1.98,"e":0.07},{"s":"LSM","x":1045,"y":-1.95,"e":0.07},{"s":"LSM","x":1082,"y":-1.94,"e":0.07},{"s":"LSM","x":1119,"y":-2.0,"e":0.07},{"s":"LSM","x":1156,"y":-2.08,"e":0.08},{"s":"LSM","x":1193,"y":-2.01,"e":0.07},{"s":"LSM","x":1230,"y":-1.74,"e":0.07},{"s":"LSM","x":1267,"y":-1.59,"e":0.07},{"s":"LSM","x":1292,"y":-1.62,"e":0.07},{"s":"LSM","x":1329,"y":-1.8,"e":0.07},{"s":"LSM","x":1366,"y":-1.76,"e":0.07},{"s":"LSM","x":1403,"y":-1.73,"e":0.07},{"s":"LSM","x":1453,"y":-1.74,"e":0.07},{"s":"LSM","x":1502,"y":-1.79,"e":0.07},{"s":"LSM","x":1552,"y":-1.88,"e":0.07},{"s":"LSM","x":1601,"y":-1.91,"e":0.07},{"s":"LSM","x":1651,"y":-2.04,"e":0.07},{"s":"LSM","x":1700,"y":-2.06,"e":0.07},{"s":"LSM","x":1750,"y":-2.09,"e":0.07},{"s":"LSM","x":1787,"y":-2.04,"e":0.07},{"s":"LSM","x":1824,"y":-1.95,"e":0.07},{"s":"LSM","x":1874,"y":-1.8,"e":0.07},{"s":"LSM","x":1923,"y":-1.68,"e":0.07},{"s":"LSM","x":1960,"y":-1.59,"e":0.07},{"s":"LSM","x":2010,"y":-1.47,"e":0.07},{"s":"LSM","x":2047,"y":-1.43,"e":0.07},{"s":"LSM","x":2084,"y":-1.45,"e":0.07},{"s":"LSM","x":2121,"y":-1.39,"e":0.07},{"s":"LSM","x":2158,"y":-1.47,"e":0.07},{"s":"LSM","x":2208,"y":-1.62,"e":0.07},{"s":"LSM","x":2257,"y":-1.7,"e":0.07},{"s":"LSM","x":2307,"y":-1.76,"e":0.07},{"s":"LSM","x":2369,"y":-1.82,"e":0.07},{"s":"LSM","x":2431,"y":-1.92,"e":0.07},{"s":"LSM","x":2480,"y":-1.82,"e":0.07},{"s":"LSM","x":2530,"y":-1.83,"e":0.07},{"s":"LSM","x":2579,"y":-1.79,"e":0.07},{"s":"LSM","x":2629,"y":-1.85,"e":0.07},{"s":"LSM","x":2666,"y":-1.76,"e":0.07},{"s":"LSM","x":2715,"y":-1.67,"e":0.07},{"s":"LSM","x":2752,"y":-1.71,"e":0.07},{"s":"LSM","x":2790,"y":-1.83,"e":0.07},{"s":"LSM","x":2839,"y":-1.89,"e":0.07},{"s":"LSM","x":2888,"y":-1.59,"e":0.07},{"s":"LSM","x":2926,"y":-1.53,"e":0.07},{"s":"LSM","x":2950,"y":-1.62,"e":0.07},{"s":"LSM","x":2988,"y":-1.89,"e":0.07},{"s":"LSM","x":3037,"y":-1.91,"e":0.07},{"s":"LSM","x":3087,"y":-1.95,"e":0.07},{"s":"LSM","x":3136,"y":-1.89,"e":0.07},{"s":"LSM","x":3173,"y":-1.98,"e":0.07},{"s":"LSM","x":3223,"y":-1.92,"e":0.07},{"s":"LSM","x":3272,"y":-1.89,"e":0.07},{"s":"LSM","x":3309,"y":-1.71,"e":0.07},{"s":"LSM","x":3339,"y":-1.45,"e":0.08},{"s":"LSM","x":3371,"y":-1.6,"e":0.07},{"s":"LSM","x":3408,"y":-1.57,"e":0.07},{"s":"LSM","x":3458,"y":-1.56,"e":0.07},{"s":"LSM","x":3507,"y":-1.51,"e":0.07},{"s":"LSM","x":3544,"y":-1.68,"e":0.07},{"s":"LSM","x":3594,"y":-1.79,"e":0.07},{"s":"LSM","x":3643,"y":-1.97,"e":0.07},{"s":"LSM","x":3681,"y":-2.09,"e":0.07},{"s":"LSM","x":3718,"y":-2.27,"e":0.07},{"s":"LSM","x":3755,"y":-2.52,"e":0.07},{"s":"LSM","x":3792,"y":-3.0,"e":0.07},
{"s":"LCM","x":463,"y":-2.49,"e":0.15},{"s":"LCM","x":488,"y":-2.15,"e":0.12},{"s":"LCM","x":525,"y":-2.04,"e":0.1},{"s":"LCM","x":562,"y":-1.92,"e":0.08},{"s":"LCM","x":611,"y":-1.77,"e":0.07},{"s":"LCM","x":661,"y":-1.68,"e":0.07},{"s":"LCM","x":710,"y":-1.67,"e":0.07},{"s":"LCM","x":760,"y":-1.64,"e":0.07},{"s":"LCM","x":797,"y":-1.68,"e":0.07},{"s":"LCM","x":834,"y":-1.62,"e":0.07},{"s":"LCM","x":884,"y":-1.68,"e":0.07},{"s":"LCM","x":933,"y":-1.73,"e":0.07},{"s":"LCM","x":983,"y":-1.76,"e":0.07},{"s":"LCM","x":1032,"y":-1.82,"e":0.07},{"s":"LCM","x":1082,"y":-1.8,"e":0.07},{"s":"LCM","x":1131,"y":-1.76,"e":0.07},{"s":"LCM","x":1181,"y":-1.73,"e":0.07},{"s":"LCM","x":1218,"y":-1.53,"e":0.07},{"s":"LCM","x":1255,"y":-1.29,"e":0.07},{"s":"LCM","x":1280,"y":-1.21,"e":0.07},{"s":"LCM","x":1317,"y":-1.42,"e":0.07},{"s":"LCM","x":1366,"y":-1.41,"e":0.07},{"s":"LCM","x":1403,"y":-1.38,"e":0.07},{"s":"LCM","x":1433,"y":-1.35,"e":0.07},{"s":"LCM","x":1465,"y":-1.44,"e":0.07},{"s":"LCM","x":1515,"y":-1.5,"e":0.07},{"s":"LCM","x":1564,"y":-1.57,"e":0.07},{"s":"LCM","x":1614,"y":-1.59,"e":0.07},{"s":"LCM","x":1651,"y":-1.74,"e":0.07},{"s":"LCM","x":1700,"y":-1.79,"e":0.07},{"s":"LCM","x":1738,"y":-1.82,"e":0.07},{"s":"LCM","x":1787,"y":-1.7,"e":0.07},{"s":"LCM","x":1837,"y":-1.59,"e":0.07},{"s":"LCM","x":1886,"y":-1.42,"e":0.07},{"s":"LCM","x":1936,"y":-1.32,"e":0.07},{"s":"LCM","x":1985,"y":-1.21,"e":0.07},{"s":"LCM","x":2035,"y":-1.15,"e":0.07},{"s":"LCM","x":2084,"y":-1.11,"e":0.07},{"s":"LCM","x":2134,"y":-1.13,"e":0.07},{"s":"LCM","x":2183,"y":-1.23,"e":0.07},{"s":"LCM","x":2233,"y":-1.38,"e":0.07},{"s":"LCM","x":2282,"y":-1.5,"e":0.07},{"s":"LCM","x":2332,"y":-1.57,"e":0.07},{"s":"LCM","x":2381,"y":-1.56,"e":0.07},{"s":"LCM","x":2431,"y":-1.61,"e":0.07},{"s":"LCM","x":2480,"y":-1.52,"e":0.07},{"s":"LCM","x":2530,"y":-1.44,"e":0.07},{"s":"LCM","x":2579,"y":-1.4,"e":0.07},{"s":"LCM","x":2629,"y":-1.32,"e":0.07},{"s":"LCM","x":2654,"y":-1.18,"e":0.07},{"s":"LCM","x":2691,"y":-1.18,"e":0.07},{"s":"LCM","x":2740,"y":-1.24,"e":0.07},{"s":"LCM","x":2790,"y":-1.33,"e":0.07},{"s":"LCM","x":2814,"y":-1.3,"e":0.07},{"s":"LCM","x":2839,"y":-1.4,"e":0.07},{"s":"LCM","x":2876,"y":-1.21,"e":0.07},{"s":"LCM","x":2926,"y":-1.15,"e":0.07},{"s":"LCM","x":2950,"y":-1.26,"e":0.07},{"s":"LCM","x":2988,"y":-1.48,"e":0.07},{"s":"LCM","x":3037,"y":-1.5,"e":0.07},{"s":"LCM","x":3087,"y":-1.45,"e":0.07},{"s":"LCM","x":3124,"y":-1.41,"e":0.07},{"s":"LCM","x":3161,"y":-1.5,"e":0.07},{"s":"LCM","x":3198,"y":-1.44,"e":0.07},{"s":"LCM","x":3235,"y":-1.52,"e":0.07},{"s":"LCM","x":3272,"y":-1.48,"e":0.08},{"s":"LCM","x":3309,"y":-1.38,"e":0.1},{"s":"LCM","x":3334,"y":-1.29,"e":0.12},{"s":"LCM","x":3359,"y":-1.6,"e":0.12},{"s":"LCM","x":3383,"y":-1.63,"e":0.1},{"s":"LCM","x":3408,"y":-1.55,"e":0.1},
{"s":"LCM","g":"2","x":3693,"y":-2.58,"e":0.12},{"s":"LCM","g":"2","x":3700,"y":-2.49,"e":0.12},{"s":"LCM","g":"2","x":3730,"y":-3.0,"e":0.1},
{"s":"SCM","x":463,"y":-1.58,"e":0.1},{"s":"SCM","x":483,"y":-1.36,"e":0.08},{"s":"SCM","x":512,"y":-1.24,"e":0.07},{"s":"SCM","x":562,"y":-1.15,"e":0.07},{"s":"SCM","x":611,"y":-1.05,"e":0.07},{"s":"SCM","x":661,"y":-1.06,"e":0.07},{"s":"SCM","x":710,"y":-1.09,"e":0.07},{"s":"SCM","x":760,"y":-1.12,"e":0.07},{"s":"SCM","x":797,"y":-1.21,"e":0.07},{"s":"SCM","x":834,"y":-1.2,"e":0.07},{"s":"SCM","x":871,"y":-1.3,"e":0.07},{"s":"SCM","x":908,"y":-1.35,"e":0.07},{"s":"SCM","x":958,"y":-1.45,"e":0.07},{"s":"SCM","x":1007,"y":-1.5,"e":0.07},{"s":"SCM","x":1057,"y":-1.55,"e":0.07},{"s":"SCM","x":1106,"y":-1.56,"e":0.07},{"s":"SCM","x":1156,"y":-1.56,"e":0.07},{"s":"SCM","x":1193,"y":-1.56,"e":0.07},{"s":"SCM","x":1218,"y":-1.38,"e":0.07},{"s":"SCM","x":1255,"y":-1.11,"e":0.07},{"s":"SCM","x":1280,"y":-1.08,"e":0.07},{"s":"SCM","x":1304,"y":-1.17,"e":0.07},{"s":"SCM","x":1341,"y":-1.32,"e":0.07},{"s":"SCM","x":1391,"y":-1.31,"e":0.07},{"s":"SCM","x":1433,"y":-1.26,"e":0.07},{"s":"SCM","x":1478,"y":-1.36,"e":0.07},{"s":"SCM","x":1527,"y":-1.47,"e":0.07},{"s":"SCM","x":1577,"y":-1.5,"e":0.07},{"s":"SCM","x":1638,"y":-1.56,"e":0.07},{"s":"SCM","x":1663,"y":-1.72,"e":0.07},{"s":"SCM","x":1713,"y":-1.75,"e":0.07},{"s":"SCM","x":1742,"y":-1.8,"e":0.07},{"s":"SCM","x":1775,"y":-1.68,"e":0.07},{"s":"SCM","x":1837,"y":-1.58,"e":0.07},{"s":"SCM","x":1886,"y":-1.38,"e":0.07},{"s":"SCM","x":1948,"y":-1.2,"e":0.07},{"s":"SCM","x":1998,"y":-1.14,"e":0.07},{"s":"SCM","x":2047,"y":-1.1,"e":0.07},{"s":"SCM","x":2084,"y":-1.07,"e":0.07},{"s":"SCM","x":2121,"y":-1.05,"e":0.07},{"s":"SCM","x":2158,"y":-1.09,"e":0.07},{"s":"SCM","x":2208,"y":-1.24,"e":0.07},{"s":"SCM","x":2257,"y":-1.39,"e":0.07},{"s":"SCM","x":2307,"y":-1.52,"e":0.07},{"s":"SCM","x":2356,"y":-1.58,"e":0.07},{"s":"SCM","x":2394,"y":-1.53,"e":0.07},{"s":"SCM","x":2431,"y":-1.58,"e":0.07},{"s":"SCM","x":2480,"y":-1.48,"e":0.07},{"s":"SCM","x":2530,"y":-1.36,"e":0.07},{"s":"SCM","x":2579,"y":-1.3,"e":0.07},{"s":"SCM","x":2629,"y":-1.15,"e":0.07},{"s":"SCM","x":2654,"y":-1.03,"e":0.07},{"s":"SCM","x":2691,"y":-1.0,"e":0.07},{"s":"SCM","x":2740,"y":-1.05,"e":0.07},{"s":"SCM","x":2777,"y":-1.14,"e":0.07},{"s":"SCM","x":2814,"y":-1.11,"e":0.07},{"s":"SCM","x":2839,"y":-1.2,"e":0.07},{"s":"SCM","x":2876,"y":-0.99,"e":0.07},{"s":"SCM","x":2913,"y":-0.9,"e":0.07},{"s":"SCM","x":2950,"y":-0.92,"e":0.07},{"s":"SCM","x":2975,"y":-1.14,"e":0.07},{"s":"SCM","x":3012,"y":-1.21,"e":0.07},{"s":"SCM","x":3062,"y":-1.2,"e":0.07},{"s":"SCM","x":3099,"y":-1.18,"e":0.07},{"s":"SCM","x":3124,"y":-1.08,"e":0.07},{"s":"SCM","x":3161,"y":-1.2,"e":0.07},{"s":"SCM","x":3198,"y":-1.11,"e":0.07},{"s":"SCM","x":3248,"y":-1.16,"e":0.08},{"s":"SCM","x":3285,"y":-1.07,"e":0.09},{"s":"SCM","x":3309,"y":-1.09,"e":0.12},{"s":"SCM","x":3334,"y":-0.81,"e":0.2},{"s":"SCM","x":3359,"y":-1.14,"e":0.15},{"s":"SCM","x":3383,"y":-1.18,"e":0.12},{"s":"SCM","x":3408,"y":-1.2,"e":0.1},
{"s":"SCM","g":"2","x":3693,"y":-1.79,"e":0.15},{"s":"SCM","g":"2","x":3700,"y":-1.74,"e":0.15},{"s":"SCM","g":"2","x":3730,"y":-2.27,"e":0.1}
 ]},
 "layer": [
  {"mark": {"type": "errorband", "clip": true, "opacity": 0.55},
   "encoding": {
    "x": {"field": "x", "type": "quantitative", "scale": {"domain": [178, 4010], "nice": false, "zero": false}, "axis": {"orient": "bottom", "values": [200,300,400,600,700,800,900,1100,1200,1300,1400,1600,1700,1800,1900,2100,2200,2300,2400,2600,2700,2800,2900,3100,3200,3300,3400,3600,3700,3800,3900], "labels": false, "grid": false, "tickSize": 3.5, "tickWidth": 1.1, "title": null}},
    "y": {"field": "y", "type": "quantitative", "scale": {"domain": [-3, 1.5], "nice": false, "zero": false}, "axis": {"orient": "left", "values": [-2.9,-2.8,-2.7,-2.6,-2.4,-2.3,-2.2,-2.1,-1.9,-1.8,-1.7,-1.6,-1.4,-1.3,-1.2,-1.1,-0.9,-0.8,-0.7,-0.6,-0.4,-0.3,-0.2,-0.1,0.1,0.2,0.3,0.4,0.6,0.7,0.8,0.9,1.1,1.2,1.3,1.4], "labels": false, "grid": false, "tickSize": 3.5, "tickWidth": 1.1, "title": null}},
    "yError": {"field": "e"},
    "color": {"field": "s", "type": "nominal", "scale": {"domain": ["LSM", "LCM", "SCM"], "range": ["#ff9a9a", "#90ee90", "#a8d8ee"]}, "legend": null},
    "detail": {"field": "g"}
   }},
  {"mark": {"type": "line", "clip": true, "strokeWidth": 2.5},
   "encoding": {
    "x": {"field": "x", "type": "quantitative", "scale": {"domain": [178, 4010], "nice": false, "zero": false}, "axis": {"orient": "bottom", "values": [500,1000,1500,2000,2500,3000,3500,4000], "format": "d", "grid": true, "tickSize": 6, "labelPadding": 3, "title": "Scanline", "titleFontSize": 28, "titlePadding": 10}},
    "y": {"field": "y", "type": "quantitative", "scale": {"domain": [-3, 1.5], "nice": false, "zero": false}, "axis": {"orient": "left", "values": [-3,-2.5,-2,-1.5,-1,-0.5,0,0.5,1,1.5], "format": ".1f", "grid": true, "tickSize": 6, "labelPadding": 7, "title": "AAI", "titleFontSize": 26, "titlePadding": 12}},
    "color": {"field": "s", "type": "nominal", "scale": {"domain": ["LSM", "LCM", "SCM"], "range": ["#ff0000", "#008000", "#0000ff"]}, "legend": {"labelExpr": "datum.label == 'LSM' ? 'LSM -1.83(0.27)' : datum.label == 'LCM' ? 'LCM -1.54(0.27)' : 'SCM -1.3(0.22)'"}},
    "detail": {"field": "g"}
   }},
  {"data": {"values": [{"x": 370, "y": 1.05, "t": "cloudbow"}]},
   "mark": {"type": "text", "align": "left", "baseline": "alphabetic", "font": "DejaVu Sans Mono", "fontSize": 28, "color": "black"},
   "encoding": {"x": {"field": "x", "type": "quantitative", "axis": null}, "y": {"field": "y", "type": "quantitative", "axis": null}, "text": {"field": "t"}}},
  {"data": {"values": [{"x": -237, "y": 1.373, "t": "(c)"}]},
   "mark": {"type": "text", "align": "left", "baseline": "alphabetic", "font": "DejaVu Sans", "fontSize": 27, "color": "black", "clip": false},
   "encoding": {"x": {"field": "x", "type": "quantitative", "axis": null}, "y": {"field": "y", "type": "quantitative", "axis": null}, "text": {"field": "t"}}}
 ],
 "resolve": {"scale": {"color": "independent"}, "axis": {"x": "independent", "y": "independent"}}
},
{
 "width": 905, "height": 498,
 "data": {"values": [
{"s":"LSM","x":275,"y":-1.02,"e":0.06},{"s":"LSM","x":295,"y":-1.06,"e":0.06},{"s":"LSM","x":315,"y":-0.85,"e":0.06},{"s":"LSM","x":340,"y":-0.7,"e":0.06},{"s":"LSM","x":370,"y":-0.52,"e":0.06},{"s":"LSM","x":410,"y":-0.42,"e":0.06},{"s":"LSM","x":450,"y":-0.33,"e":0.06},{"s":"LSM","x":488,"y":-0.25,"e":0.06},{"s":"LSM","x":520,"y":-0.2,"e":0.06},{"s":"LSM","x":560,"y":-0.15,"e":0.06},{"s":"LSM","x":600,"y":-0.12,"e":0.06},{"s":"LSM","x":630,"y":-0.14,"e":0.06},{"s":"LSM","x":654,"y":-0.1,"e":0.06},{"s":"LSM","x":695,"y":-0.2,"e":0.06},{"s":"LSM","x":740,"y":-0.33,"e":0.06},{"s":"LSM","x":790,"y":-0.48,"e":0.06},{"s":"LSM","x":830,"y":-0.58,"e":0.06},{"s":"LSM","x":872,"y":-0.66,"e":0.06},{"s":"LSM","x":931,"y":-0.78,"e":0.06},{"s":"LSM","x":990,"y":-0.9,"e":0.06},{"s":"LSM","x":1050,"y":-1.0,"e":0.06},{"s":"LSM","x":1109,"y":-1.07,"e":0.06},{"s":"LSM","x":1160,"y":-1.12,"e":0.06},{"s":"LSM","x":1197,"y":-1.15,"e":0.06},{"s":"LSM","x":1240,"y":-1.2,"e":0.06},{"s":"LSM","x":1286,"y":-1.25,"e":0.06},{"s":"LSM","x":1330,"y":-1.28,"e":0.06},{"s":"LSM","x":1375,"y":-1.3,"e":0.06},{"s":"LSM","x":1420,"y":-1.36,"e":0.06},{"s":"LSM","x":1463,"y":-1.35,"e":0.06},{"s":"LSM","x":1510,"y":-1.42,"e":0.06},{"s":"LSM","x":1552,"y":-1.46,"e":0.06},{"s":"LSM","x":1600,"y":-1.5,"e":0.06},{"s":"LSM","x":1641,"y":-1.56,"e":0.06},{"s":"LSM","x":1690,"y":-1.55,"e":0.06},{"s":"LSM","x":1729,"y":-1.6,"e":0.06},{"s":"LSM","x":1780,"y":-1.63,"e":0.06},{"s":"LSM","x":1818,"y":-1.67,"e":0.06},{"s":"LSM","x":1860,"y":-1.65,"e":0.06},{"s":"LSM","x":1907,"y":-1.7,"e":0.06},{"s":"LSM","x":1940,"y":-1.75,"e":0.06},{"s":"LSM","x":1966,"y":-1.7,"e":0.06},{"s":"LSM","x":2010,"y":-1.62,"e":0.06},{"s":"LSM","x":2054,"y":-1.6,"e":0.06},{"s":"LSM","x":2100,"y":-1.55,"e":0.06},{"s":"LSM","x":2143,"y":-1.52,"e":0.06},{"s":"LSM","x":2190,"y":-1.5,"e":0.06},{"s":"LSM","x":2232,"y":-1.48,"e":0.06},{"s":"LSM","x":2280,"y":-1.53,"e":0.06},{"s":"LSM","x":2320,"y":-1.56,"e":0.06},{"s":"LSM","x":2365,"y":-1.58,"e":0.06},{"s":"LSM","x":2409,"y":-1.62,"e":0.06},{"s":"LSM","x":2468,"y":-1.68,"e":0.06},{"s":"LSM","x":2500,"y":-1.72,"e":0.06},{"s":"LSM","x":2527,"y":-1.75,"e":0.06},{"s":"LSM","x":2560,"y":-1.72,"e":0.06},{"s":"LSM","x":2586,"y":-1.67,"e":0.06},{"s":"LSM","x":2645,"y":-1.6,"e":0.06},{"s":"LSM","x":2704,"y":-1.52,"e":0.06},{"s":"LSM","x":2750,"y":-1.45,"e":0.06},{"s":"LSM","x":2793,"y":-1.38,"e":0.06},{"s":"LSM","x":2840,"y":-1.3,"e":0.06},{"s":"LSM","x":2882,"y":-1.22,"e":0.06},{"s":"LSM","x":2930,"y":-1.12,"e":0.06},{"s":"LSM","x":2970,"y":-1.04,"e":0.06},{"s":"LSM","x":3020,"y":-0.97,"e":0.06},{"s":"LSM","x":3059,"y":-0.92,"e":0.06},{"s":"LSM","x":3100,"y":-0.85,"e":0.06},{"s":"LSM","x":3148,"y":-0.75,"e":0.06},{"s":"LSM","x":3190,"y":-0.66,"e":0.06},{"s":"LSM","x":3236,"y":-0.57,"e":0.06},{"s":"LSM","x":3280,"y":-0.48,"e":0.06},{"s":"LSM","x":3325,"y":-0.39,"e":0.06},{"s":"LSM","x":3370,"y":-0.28,"e":0.06},{"s":"LSM","x":3414,"y":-0.17,"e":0.06},{"s":"LSM","x":3445,"y":-0.08,"e":0.06},{"s":"LSM","x":3473,"y":-0.02,"e":0.06},{"s":"LSM","x":3500,"y":-0.05,"e":0.06},{"s":"LSM","x":3532,"y":-0.11,"e":0.06},{"s":"LSM","x":3560,"y":-0.06,"e":0.06},{"s":"LSM","x":3591,"y":-0.09,"e":0.06},{"s":"LSM","x":3620,"y":-0.04,"e":0.06},{"s":"LSM","x":3650,"y":0.01,"e":0.06},{"s":"LSM","x":3680,"y":0.05,"e":0.06},{"s":"LSM","x":3710,"y":0.08,"e":0.06},{"s":"LSM","x":3738,"y":0.03,"e":0.06},{"s":"LSM","x":3770,"y":-0.12,"e":0.06},{"s":"LSM","x":3797,"y":-0.3,"e":0.06},{"s":"LSM","x":3830,"y":-0.48,"e":0.06},{"s":"LSM","x":3860,"y":-0.65,"e":0.06},{"s":"LSM","x":3890,"y":-0.78,"e":0.06},{"s":"LSM","x":3916,"y":-0.9,"e":0.06},{"s":"LSM","x":3940,"y":-1.05,"e":0.07},{"s":"LSM","x":3960,"y":-1.22,"e":0.08},
{"s":"LCM","x":476,"y":-0.62,"e":0.12},{"s":"LCM","x":500,"y":-0.5,"e":0.12},{"s":"LCM","x":518,"y":-0.42,"e":0.1},{"s":"LCM","x":545,"y":-0.5,"e":0.09},{"s":"LCM","x":577,"y":-0.41,"e":0.08},{"s":"LCM","x":610,"y":-0.5,"e":0.07},{"s":"LCM","x":636,"y":-0.51,"e":0.07},{"s":"LCM","x":665,"y":-0.44,"e":0.07},{"s":"LCM","x":695,"y":-0.46,"e":0.07},{"s":"LCM","x":725,"y":-0.52,"e":0.07},{"s":"LCM","x":754,"y":-0.54,"e":0.07},{"s":"LCM","x":790,"y":-0.5,"e":0.07},{"s":"LCM","x":813,"y":-0.6,"e":0.07},{"s":"LCM","x":850,"y":-0.62,"e":0.07},{"s":"LCM","x":872,"y":-0.68,"e":0.07},{"s":"LCM","x":900,"y":-0.7,"e":0.07},{"s":"LCM","x":931,"y":-0.74,"e":0.07},{"s":"LCM","x":960,"y":-0.76,"e":0.07},{"s":"LCM","x":990,"y":-0.8,"e":0.07},{"s":"LCM","x":1020,"y":-0.85,"e":0.07},{"s":"LCM","x":1050,"y":-0.89,"e":0.07},{"s":"LCM","x":1090,"y":-0.92,"e":0.07},{"s":"LCM","x":1138,"y":-0.95,"e":0.07},{"s":"LCM","x":1180,"y":-0.98,"e":0.07},{"s":"LCM","x":1227,"y":-1.01,"e":0.07},{"s":"LCM","x":1270,"y":-1.05,"e":0.07},{"s":"LCM","x":1316,"y":-1.08,"e":0.07},{"s":"LCM","x":1360,"y":-1.02,"e":0.07},{"s":"LCM","x":1404,"y":-0.98,"e":0.07},{"s":"LCM","x":1450,"y":-1.05,"e":0.07},{"s":"LCM","x":1493,"y":-1.08,"e":0.07},{"s":"LCM","x":1540,"y":-1.12,"e":0.07},{"s":"LCM","x":1582,"y":-1.1,"e":0.07},{"s":"LCM","x":1630,"y":-1.15,"e":0.07},{"s":"LCM","x":1670,"y":-1.14,"e":0.07},{"s":"LCM","x":1720,"y":-1.17,"e":0.07},{"s":"LCM","x":1759,"y":-1.12,"e":0.07},{"s":"LCM","x":1800,"y":-1.18,"e":0.07},{"s":"LCM","x":1848,"y":-1.2,"e":0.07},{"s":"LCM","x":1890,"y":-1.25,"e":0.07},{"s":"LCM","x":1936,"y":-1.3,"e":0.07},{"s":"LCM","x":1960,"y":-1.42,"e":0.07},{"s":"LCM","x":1990,"y":-1.25,"e":0.07},{"s":"LCM","x":2025,"y":-1.15,"e":0.07},{"s":"LCM","x":2070,"y":-1.1,"e":0.07},{"s":"LCM","x":2114,"y":-1.08,"e":0.07},{"s":"LCM","x":2160,"y":-1.12,"e":0.07},{"s":"LCM","x":2202,"y":-1.1,"e":0.07},{"s":"LCM","x":2250,"y":-1.18,"e":0.07},{"s":"LCM","x":2291,"y":-1.16,"e":0.07},{"s":"LCM","x":2340,"y":-1.22,"e":0.07},{"s":"LCM","x":2379,"y":-1.25,"e":0.07},{"s":"LCM","x":2420,"y":-1.28,"e":0.07},{"s":"LCM","x":2468,"y":-1.3,"e":0.07},{"s":"LCM","x":2510,"y":-1.35,"e":0.07},{"s":"LCM","x":2557,"y":-1.3,"e":0.07},{"s":"LCM","x":2600,"y":-1.25,"e":0.07},{"s":"LCM","x":2645,"y":-1.22,"e":0.07},{"s":"LCM","x":2690,"y":-1.12,"e":0.07},{"s":"LCM","x":2734,"y":-1.08,"e":0.07},{"s":"LCM","x":2780,"y":-1.05,"e":0.07},{"s":"LCM","x":2823,"y":-1.01,"e":0.07},{"s":"LCM","x":2870,"y":-0.95,"e":0.07},{"s":"LCM","x":2911,"y":-0.91,"e":0.07},{"s":"LCM","x":2950,"y":-0.78,"e":0.07},{"s":"LCM","x":3000,"y":-0.74,"e":0.07},{"s":"LCM","x":3040,"y":-0.7,"e":0.07},{"s":"LCM","x":3089,"y":-0.65,"e":0.07},{"s":"LCM","x":3130,"y":-0.6,"e":0.07},{"s":"LCM","x":3177,"y":-0.57,"e":0.07},{"s":"LCM","x":3220,"y":-0.48,"e":0.07},{"s":"LCM","x":3266,"y":-0.39,"e":0.07},{"s":"LCM","x":3310,"y":-0.28,"e":0.07},{"s":"LCM","x":3355,"y":-0.17,"e":0.07},{"s":"LCM","x":3390,"y":-0.08,"e":0.07},{"s":"LCM","x":3414,"y":-0.03,"e":0.07},{"s":"LCM","x":3440,"y":-0.06,"e":0.07},{"s":"LCM","x":3473,"y":-0.09,"e":0.07},{"s":"LCM","x":3500,"y":-0.04,"e":0.07},{"s":"LCM","x":3532,"y":-0.17,"e":0.07},{"s":"LCM","x":3560,"y":-0.22,"e":0.07},{"s":"LCM","x":3591,"y":-0.12,"e":0.07},{"s":"LCM","x":3620,"y":-0.1,"e":0.07},{"s":"LCM","x":3650,"y":-0.21,"e":0.07},{"s":"LCM","x":3680,"y":-0.3,"e":0.07},{"s":"LCM","x":3709,"y":-0.41,"e":0.07},{"s":"LCM","x":3740,"y":-0.5,"e":0.07},{"s":"LCM","x":3768,"y":-0.63,"e":0.07},{"s":"LCM","x":3800,"y":-0.8,"e":0.07},{"s":"LCM","x":3827,"y":-0.98,"e":0.07},{"s":"LCM","x":3850,"y":-1.15,"e":0.07},
{"s":"SCM","x":476,"y":-0.98,"e":0.25},{"s":"SCM","x":490,"y":-0.8,"e":0.2},{"s":"SCM","x":506,"y":-0.65,"e":0.15},{"s":"SCM","x":530,"y":-0.55,"e":0.1},{"s":"SCM","x":547,"y":-0.51,"e":0.08},{"s":"SCM","x":570,"y":-0.45,"e":0.07},{"s":"SCM","x":595,"y":-0.41,"e":0.07},{"s":"SCM","x":625,"y":-0.45,"e":0.07},{"s":"SCM","x":654,"y":-0.4,"e":0.07},{"s":"SCM","x":690,"y":-0.45,"e":0.07},{"s":"SCM","x":713,"y":-0.43,"e":0.07},{"s":"SCM","x":750,"y":-0.47,"e":0.07},{"s":"SCM","x":772,"y":-0.48,"e":0.07},{"s":"SCM","x":800,"y":-0.52,"e":0.07},{"s":"SCM","x":831,"y":-0.57,"e":0.07},{"s":"SCM","x":860,"y":-0.58,"e":0.07},{"s":"SCM","x":890,"y":-0.65,"e":0.07},{"s":"SCM","x":925,"y":-0.7,"e":0.07},{"s":"SCM","x":961,"y":-0.72,"e":0.07},{"s":"SCM","x":1000,"y":-0.75,"e":0.07},{"s":"SCM","x":1050,"y":-0.78,"e":0.07},{"s":"SCM","x":1090,"y":-0.85,"e":0.07},{"s":"SCM","x":1138,"y":-0.84,"e":0.07},{"s":"SCM","x":1180,"y":-0.88,"e":0.07},{"s":"SCM","x":1227,"y":-0.84,"e":0.07},{"s":"SCM","x":1270,"y":-0.9,"e":0.07},{"s":"SCM","x":1316,"y":-0.92,"e":0.07},{"s":"SCM","x":1360,"y":-0.86,"e":0.07},{"s":"SCM","x":1404,"y":-0.84,"e":0.07},{"s":"SCM","x":1450,"y":-0.9,"e":0.07},{"s":"SCM","x":1493,"y":-0.92,"e":0.07},{"s":"SCM","x":1530,"y":-0.95,"e":0.07},{"s":"SCM","x":1582,"y":-0.93,"e":0.07},{"s":"SCM","x":1630,"y":-0.98,"e":0.07},{"s":"SCM","x":1670,"y":-0.97,"e":0.07},{"s":"SCM","x":1720,"y":-1.02,"e":0.07},{"s":"SCM","x":1759,"y":-0.98,"e":0.07},{"s":"SCM","x":1800,"y":-1.05,"e":0.07},{"s":"SCM","x":1848,"y":-1.07,"e":0.07},{"s":"SCM","x":1890,"y":-1.08,"e":0.07},{"s":"SCM","x":1936,"y":-1.1,"e":0.07},{"s":"SCM","x":1966,"y":-1.15,"e":0.07},{"s":"SCM","x":2000,"y":-1.02,"e":0.07},{"s":"SCM","x":2025,"y":-0.98,"e":0.07},{"s":"SCM","x":2070,"y":-1.0,"e":0.07},{"s":"SCM","x":2114,"y":-0.98,"e":0.07},{"s":"SCM","x":2160,"y":-1.03,"e":0.07},{"s":"SCM","x":2202,"y":-1.01,"e":0.07},{"s":"SCM","x":2250,"y":-1.05,"e":0.07},{"s":"SCM","x":2291,"y":-1.06,"e":0.07},{"s":"SCM","x":2340,"y":-1.09,"e":0.07},{"s":"SCM","x":2379,"y":-1.1,"e":0.07},{"s":"SCM","x":2420,"y":-1.12,"e":0.07},{"s":"SCM","x":2468,"y":-1.1,"e":0.07},{"s":"SCM","x":2510,"y":-1.12,"e":0.07},{"s":"SCM","x":2557,"y":-1.08,"e":0.07},{"s":"SCM","x":2600,"y":-1.05,"e":0.07},{"s":"SCM","x":2645,"y":-1.0,"e":0.07},{"s":"SCM","x":2690,"y":-0.95,"e":0.07},{"s":"SCM","x":2734,"y":-0.92,"e":0.07},{"s":"SCM","x":2780,"y":-0.9,"e":0.07},{"s":"SCM","x":2823,"y":-0.86,"e":0.07},{"s":"SCM","x":2870,"y":-0.8,"e":0.07},{"s":"SCM","x":2911,"y":-0.74,"e":0.07},{"s":"SCM","x":2950,"y":-0.62,"e":0.07},{"s":"SCM","x":3000,"y":-0.66,"e":0.07},{"s":"SCM","x":3040,"y":-0.7,"e":0.07},{"s":"SCM","x":3089,"y":-0.62,"e":0.07},{"s":"SCM","x":3130,"y":-0.58,"e":0.07},{"s":"SCM","x":3177,"y":-0.55,"e":0.07},{"s":"SCM","x":3220,"y":-0.5,"e":0.07},{"s":"SCM","x":3266,"y":-0.42,"e":0.07},{"s":"SCM","x":3310,"y":-0.35,"e":0.07},{"s":"SCM","x":3355,"y":-0.3,"e":0.07},{"s":"SCM","x":3390,"y":-0.26,"e":0.07},{"s":"SCM","x":3414,"y":-0.28,"e":0.07},{"s":"SCM","x":3440,"y":-0.33,"e":0.07},{"s":"SCM","x":3473,"y":-0.3,"e":0.07},{"s":"SCM","x":3500,"y":-0.27,"e":0.07},{"s":"SCM","x":3532,"y":-0.35,"e":0.07},{"s":"SCM","x":3560,"y":-0.42,"e":0.07},{"s":"SCM","x":3591,"y":-0.38,"e":0.07},{"s":"SCM","x":3620,"y":-0.45,"e":0.07},{"s":"SCM","x":3650,"y":-0.52,"e":0.07},{"s":"SCM","x":3680,"y":-0.6,"e":0.07},{"s":"SCM","x":3709,"y":-0.68,"e":0.07},{"s":"SCM","x":3740,"y":-0.78,"e":0.07},{"s":"SCM","x":3768,"y":-0.92,"e":0.07},{"s":"SCM","x":3800,"y":-1.08,"e":0.07},{"s":"SCM","x":3827,"y":-1.25,"e":0.07},{"s":"SCM","x":3845,"y":-1.42,"e":0.07}
 ]},
 "layer": [
  {"mark": {"type": "errorband", "clip": true, "opacity": 0.55},
   "encoding": {
    "x": {"field": "x", "type": "quantitative", "scale": {"domain": [90, 4160], "nice": false, "zero": false}, "axis": {"orient": "bottom", "values": [100,200,300,400,600,700,800,900,1100,1200,1300,1400,1600,1700,1800,1900,2100,2200,2300,2400,2600,2700,2800,2900,3100,3200,3300,3400,3600,3700,3800,3900,4100], "labels": false, "grid": false, "tickSize": 3.5, "tickWidth": 1.1, "title": null}},
    "y": {"field": "y", "type": "quantitative", "scale": {"domain": [-3, 1.5], "nice": false, "zero": false}, "axis": {"orient": "left", "values": [-2.9,-2.8,-2.7,-2.6,-2.4,-2.3,-2.2,-2.1,-1.9,-1.8,-1.7,-1.6,-1.4,-1.3,-1.2,-1.1,-0.9,-0.8,-0.7,-0.6,-0.4,-0.3,-0.2,-0.1,0.1,0.2,0.3,0.4,0.6,0.7,0.8,0.9,1.1,1.2,1.3,1.4], "labels": false, "grid": false, "tickSize": 3.5, "tickWidth": 1.1, "title": null}},
    "yError": {"field": "e"},
    "color": {"field": "s", "type": "nominal", "scale": {"domain": ["LSM", "LCM", "SCM"], "range": ["#ff9a9a", "#90ee90", "#a8d8ee"]}, "legend": null}
   }},
  {"mark": {"type": "line", "clip": true, "strokeWidth": 2.5},
   "encoding": {
    "x": {"field": "x", "type": "quantitative", "scale": {"domain": [90, 4160], "nice": false, "zero": false}, "axis": {"orient": "bottom", "values": [500,1000,1500,2000,2500,3000,3500,4000], "format": "d", "grid": true, "tickSize": 6, "labelPadding": 3, "title": "Scanline", "titleFontSize": 28, "titlePadding": 10}},
    "y": {"field": "y", "type": "quantitative", "scale": {"domain": [-3, 1.5], "nice": false, "zero": false}, "axis": {"orient": "left", "values": [-3,-2.5,-2,-1.5,-1,-0.5,0,0.5,1,1.5], "format": ".1f", "grid": true, "tickSize": 6, "labelPadding": 7, "title": "AAI", "titleFontSize": 26, "titlePadding": 12}},
    "color": {"field": "s", "type": "nominal", "scale": {"domain": ["LSM", "LCM", "SCM"], "range": ["#ff0000", "#008000", "#0000ff"]}, "legend": {"labelExpr": "datum.label == 'LSM' ? 'LSM -1.02(0.58)' : datum.label == 'LCM' ? 'LCM -0.9(0.38)' : 'SCM -0.81(0.25)'"}}
   }},
  {"data": {"values": [{"x": 294, "y": 1.05, "t": "west"}]},
   "mark": {"type": "text", "align": "left", "baseline": "alphabetic", "font": "DejaVu Sans Mono", "fontSize": 28, "color": "black"},
   "encoding": {"x": {"field": "x", "type": "quantitative", "axis": null}, "y": {"field": "y", "type": "quantitative", "axis": null}, "text": {"field": "t"}}},
  {"data": {"values": [{"x": -351, "y": 1.373, "t": "(d)"}]},
   "mark": {"type": "text", "align": "left", "baseline": "alphabetic", "font": "DejaVu Sans", "fontSize": 27, "color": "black", "clip": false},
   "encoding": {"x": {"field": "x", "type": "quantitative", "axis": null}, "y": {"field": "y", "type": "quantitative", "axis": null}, "text": {"field": "t"}}}
 ],
 "resolve": {"scale": {"color": "independent"}, "axis": {"x": "independent", "y": "independent"}}
}
]
}
